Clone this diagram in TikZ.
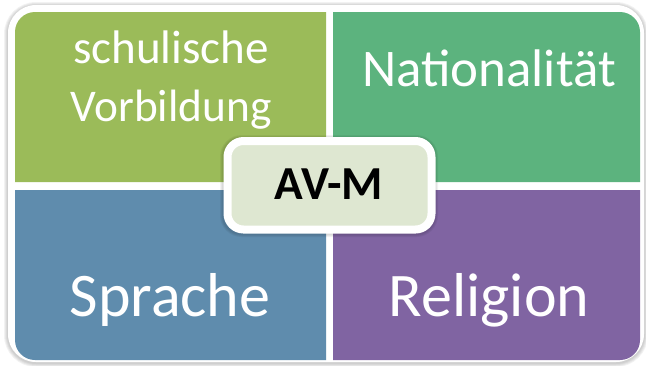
\documentclass[tikz,border=0pt]{standalone}
\usepackage{fontspec}
\setmainfont{Carlito}
\definecolor{qgreen}{HTML}{9BBB59}
\definecolor{qteal}{HTML}{5CB37E}
\definecolor{qblue}{HTML}{5F8CAD}
\definecolor{qpurple}{HTML}{8064A2}
\definecolor{qcenter}{HTML}{DEE7D1}
\tikzset{
  qtext/.style={text=white, anchor=base, inner sep=0pt},
  shadowring/.style={draw=black, line width=#1, opacity=0.05, rounded corners=21pt},
}
\begin{document}
\begin{tikzpicture}[x=0.75pt, y=-0.75pt]
\useasboundingbox (0,0) rectangle (646,365);
% soft shadow of the frame
\foreach \w in {1.5,3,4.5,6}{
  \draw[shadowring=\w pt] (8,6) rectangle (644,363);
}
% white frame
\fill[white, rounded corners=21pt] (8,5) rectangle (644,362);
% quadrants
\fill[qgreen] (15,182) [rounded corners=15pt] -- (15,12) [sharp corners] -- (326,12) -- (326,182) -- cycle;
\fill[qteal] (333,12) [rounded corners=15pt] -- (640,12) [sharp corners] -- (640,182) -- (333,182) -- cycle;
\fill[qblue] (326,360) [rounded corners=15pt] -- (15,360) [sharp corners] -- (15,190) -- (326,190) -- cycle;
\fill[qpurple] (333,190) -- (640,190) [rounded corners=15pt] -- (640,360) [sharp corners] -- (333,360) -- cycle;
% quadrant texts
\node[qtext, font=\fontsize{35.3}{44}\selectfont] (t1) at (171,63) {schulische};
\node[qtext, font=\fontsize{34}{44}\selectfont] (t1b) at (171,121.7) {Vorbildung};
\node[qtext, font=\fontsize{39.7}{45}\selectfont] (t2) at (489,86) {Nationalität};
\node[qtext, font=\fontsize{46.5}{56}\selectfont] (t3) at (170,316) {Sprache};
\node[qtext, font=\fontsize{46.5}{56}\selectfont] (t4) at (489,316) {Religion};
% centre box shadow
\foreach \w in {1.5,3,4.5}{
  \draw[draw=black, line width=\w pt, opacity=0.05, rounded corners=14pt] (223,138) rectangle (435,234);
}
\draw[fill=qcenter, draw=white, line width=6pt, rounded corners=12pt] (227.5,141) rectangle (431.5,229.5);
\node[anchor=base, inner sep=0pt, font=\fontsize{35.5}{40}\selectfont\bfseries] (c) at (329,199) {AV-M};
\end{tikzpicture}
\end{document}
